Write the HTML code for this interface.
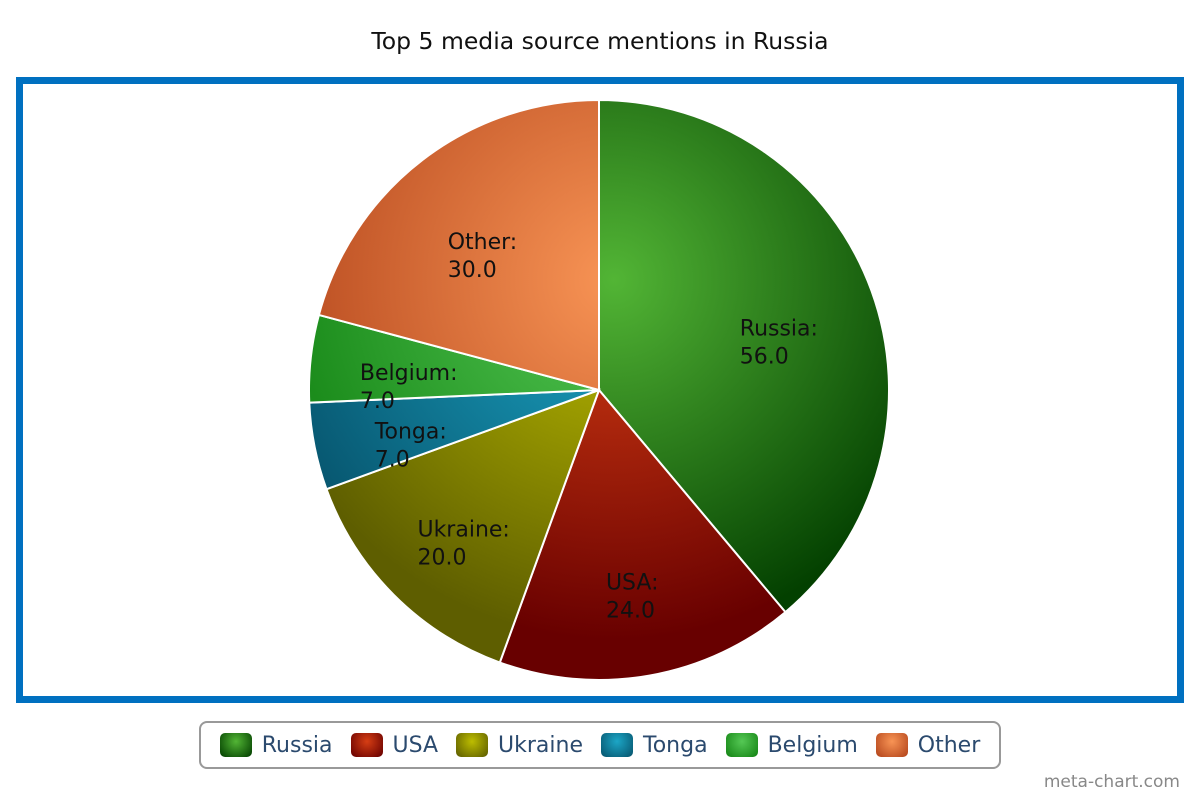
<!DOCTYPE html>
<html><head><meta charset="utf-8"><style>
body{margin:0;width:1200px;height:800px;background:#fff;font-family:"DejaVu Sans","Liberation Sans",sans-serif;overflow:hidden;position:relative}
#title{position:absolute;top:27px;left:0;width:1200px;text-align:center;font-size:23.5px;color:#111}
#frame{position:absolute;left:16px;top:77px;width:1154px;height:612px;border:7px solid #0070c0}
#legend{position:absolute;left:199px;top:721px;width:802px;height:48px;border:2px solid #999;border-radius:8px;display:flex;align-items:center;justify-content:center;gap:18px;font-size:22px;color:#2b4a6e;box-sizing:border-box}
.it{display:flex;align-items:center;gap:10px}
.sw{width:32px;height:24px;border-radius:5px}
#credit{position:absolute;right:20px;top:772px;font-size:17px;color:#888}
</style></head><body>
<div id="title">Top 5 media source mentions in Russia</div>
<div id="frame"></div>
<svg id="pie" width="1200" height="800" style="position:absolute;left:0;top:0"><defs id="defs"></defs></svg>
<div id="legend"></div>
<div id="credit">meta-chart.com</div>
<script>
const categories=["Russia","USA","Ukraine","Tonga","Belgium","Other"];
const values=[56,24,20,7,7,30];
const valueLabels=["56.0","24.0","20.0","7.0","7.0","30.0"];
const lightColors=["#52b535","#d63e14","#bdbd00","#1ca6c6","#55c855","#f89455"];
const darkColors=["#034000","#680000","#5e5e00","#07566f","#158515","#b4461c"];
const NS="http://www.w3.org/2000/svg";
const svg=document.getElementById('pie'),defs=document.getElementById('defs'),legend=document.getElementById('legend');
const cx=599,cy=390,r=290;
const total=values.reduce((a,b)=>a+b,0);
let a0=0;
values.forEach((v,i)=>{
  const a1=a0+v/total*2*Math.PI;
  const g=document.createElementNS(NS,'radialGradient');
  g.setAttribute('id','g'+i);g.setAttribute('gradientUnits','userSpaceOnUse');
  g.setAttribute('cx',cx+15);g.setAttribute('cy',cy-110);g.setAttribute('r',r+70);
  g.innerHTML=`<stop offset="0" stop-color="${lightColors[i]}"/><stop offset="1" stop-color="${darkColors[i]}"/>`;
  defs.appendChild(g);
  const x0=cx+r*Math.sin(a0),y0=cy-r*Math.cos(a0),x1=cx+r*Math.sin(a1),y1=cy-r*Math.cos(a1);
  const p=document.createElementNS(NS,'path');
  p.setAttribute('d',`M${cx},${cy}L${x0},${y0}A${r},${r} 0 ${a1-a0>Math.PI?1:0} 1 ${x1},${y1}Z`);
  p.setAttribute('fill','url(#g'+i+')');p.setAttribute('stroke','#fff');p.setAttribute('stroke-width','2');
  
  
  svg.appendChild(p);
  a0=a1;
});
a0=0;
values.forEach((v,i)=>{
  const a1=a0+v/total*2*Math.PI;
  const m=(a0+a1)/2,px=cx+r*0.66*Math.sin(m),py=cy-r*0.66*Math.cos(m);
  const t=document.createElementNS(NS,'text');
  t.setAttribute('font-size','22');t.setAttribute('fill','#111');
  t.setAttribute('font-family','"DejaVu Sans","Liberation Sans",sans-serif');
  t.innerHTML=`<tspan x="0" y="0">${categories[i]}:</tspan><tspan x="0" y="28">${valueLabels[i]}</tspan>`;
  
  
  svg.appendChild(t);
  const w=t.getBBox().width;
  const lx=px-w/2;
  t.querySelectorAll('tspan').forEach(s=>s.setAttribute('x',lx));
  t.setAttribute('transform',`translate(0,${py+11})`);
  const it=document.createElement('div');it.className='it';
  
  
  it.innerHTML=`<div class="sw" style="background:radial-gradient(circle at 50% 35%, ${lightColors[i]}, ${darkColors[i]} 95%)"></div><span>${categories[i]}</span>`;
  legend.appendChild(it);
  a0=a1;
});
</script>
</body></html>
